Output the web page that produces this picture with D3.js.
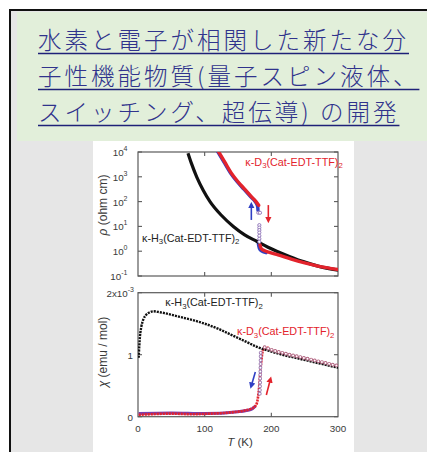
<!DOCTYPE html>
<html><head><meta charset="utf-8">
<script src="https://cdn.jsdelivr.net/npm/d3@7"></script>
<style>body{margin:0;background:#fff}svg{display:block}</style>
</head><body><svg id="c" width="427" height="452"></svg>
<script>
// ---------- data ----------
const titleLines = ["水素と電子が相関した新たな分", "子性機能物質(量子スピン液体、", "スイッチング、超伝導) の開発"];
const tTicks = [0, 100, 200, 300];
const rhoExpTicks = [-1, 0, 1, 2, 3, 4];
const chiTicks = [0, 1, 2];
// top panel: [T (K), log10 rho (ohm cm)]
const rhoH3 = [[75,3.95],[80,3.55],[88,3.0],[98,2.45],[108,2.0],[125,1.45],[143,1.0],[160,0.66],[178,0.40],[195,0.16],[208,0.0],[228,-0.22],[248,-0.42],[270,-0.6],[300,-0.76]];
const rhoD3warmUpper = [[120,4.05],[130,3.6],[140,3.15],[150,2.8],[160,2.5],[170,2.2],[177,2.0],[181,1.85]];
const rhoD3coolUpper = [[118.8,4.05],[128.8,3.6],[138.8,3.15],[148.8,2.8],[158.8,2.5],[168.8,2.2],[175.8,2.0],[179.5,1.8],[180,1.65]];
const rhoD3warmLower = [[183,0.25],[185,0.1],[190,0.02],[196,-0.04],[210,-0.15],[230,-0.32],[250,-0.47],[270,-0.6],[300,-0.74]];
const rhoD3coolLower = [[180.5,0.3],[182,0.12],[186,0.0],[192,-0.06]];
const rhoD3trans = [[180.5,1.55],[183,1.55],[182,1.05],[182,0.95],[182,0.85],[182,0.75],[182,0.62],[182,0.5],[182,0.38]];
// bottom panel: [T (K), chi (1e-3 emu/mol)]
const chiH3 = [[1,0.95],[2,1.15],[3,1.3],[5,1.45],[8,1.57],[12,1.64],[17,1.68],[23,1.70],[30,1.69],[40,1.67],[55,1.63],[70,1.59],[85,1.55],[100,1.50],[120,1.42],[140,1.32],[160,1.22],[180,1.12],[200,1.05],[220,0.99],[240,0.94],[260,0.89],[280,0.84],[300,0.79]];
const chiD3warm = [[1,0.03],[20,0.04],[50,0.05],[80,0.04],[110,0.05],[140,0.07],[160,0.1],[170,0.13],[176,0.17],[179,0.25],[181,0.4],[183,0.65],[185,0.9],[187,1.06],[189,1.11],[196,1.11]];
const chiD3cool = [[1,0.05],[50,0.06],[100,0.05],[150,0.08],[170,0.12],[176,0.17]];
const chiD3upper = [[190,1.12],[200,1.08],[220,1.02],[240,0.97],[260,0.92],[280,0.87],[300,0.82]];
const chiD3trans = [[184,1.03],[183.5,0.7],[182.5,0.32]];
// arrows [T0, v0, T1, v1]
const rhoArrows = [{c:"blue", p:[170,1.26,170,1.86]}, {c:"red", p:[195.5,1.86,195.5,1.26]}];
const chiArrows = [{c:"blue", p:[176,0.72,170,0.5]}, {c:"red", p:[192.5,0.35,198.5,0.6]}];

// ---------- drawing ----------
const svg = d3.select("#c");
const RED = "#e3232c", BLUE = "#2f3fc4", BLK = "#111", MAUVE = "#b0607e";

// page frame
svg.append("rect").attr("x",0).attr("y",0).attr("width",427).attr("height",452).attr("fill","#fff");
svg.append("rect").attr("x",11).attr("y",11).attr("width",420).attr("height",450).attr("fill","#e6e6e6");
svg.append("rect").attr("x",17).attr("y",12).attr("width",415).attr("height",129).attr("fill","#e2efda");
svg.append("rect").attr("x",10).attr("y",10).attr("width",430).attr("height",460).attr("fill","none").attr("stroke","#111").attr("stroke-width",2);
svg.append("rect").attr("x",93).attr("y",141).attr("width",261).attr("height",320).attr("fill","#fff");

// title
const tg = svg.append("g");
titleLines.forEach((s,i)=>{
  const y = 49 + i*36;
  const t = tg.append("text").attr("x",38).attr("y",y).text(s)
    .attr("font-family","'Noto Sans CJK JP'").attr("font-weight",300).attr("font-size",23.5).attr("letter-spacing","3px")
    .attr("fill","#30338c");
  let w = t.node().getComputedTextLength();
  tg.append("line").attr("x1",38).attr("x2",38+w).attr("y1",y+4.5).attr("y2",y+4.5)
    .attr("stroke","#1f2178").attr("stroke-width",1.4);
});

const x = d3.scaleLinear().domain([0,300]).range([138,338]);
const yR = d3.scaleLinear().domain([-1,4]).range([276,152]);
const yC = d3.scaleLinear().domain([0,2]).range([416.7,292.7]);
const FONT = "'Liberation Sans', Arial, sans-serif";
const AX = "#5a5a5a";

function frame(y0,y1){
  svg.append("rect").attr("x",x(0)).attr("y",y0).attr("width",x(300)-x(0)).attr("height",y1-y0)
   .attr("fill","none").attr("stroke",AX).attr("stroke-width",1.2);
}
function axes(y, ticks, y0, y1){
  const g = svg.append("g").attr("stroke",AX).attr("stroke-width",1.1);
  ticks.forEach(v=>{
    g.append("line").attr("x1",x(0)).attr("x2",x(0)+4).attr("y1",y(v)).attr("y2",y(v));
    g.append("line").attr("x1",x(300)).attr("x2",x(300)-4).attr("y1",y(v)).attr("y2",y(v));
  });
  [100,200].forEach(v=>{
    g.append("line").attr("x1",x(v)).attr("x2",x(v)).attr("y1",y0).attr("y2",y0+4);
    g.append("line").attr("x1",x(v)).attr("x2",x(v)).attr("y1",y1).attr("y2",y1-4);
  });
}
frame(152,276); axes(yR, rhoExpTicks, 152, 276);
frame(292.7,416.7); axes(yC, chiTicks, 292.7, 416.7);

// tick labels
const lab = svg.append("g").attr("font-family",FONT).attr("fill","#3a3a3a");
rhoExpTicks.forEach(e=>{
  const t = lab.append("text").attr("x",127.5).attr("y",yR(e)+4).attr("text-anchor","end").attr("font-size",9.8);
  t.append("tspan").text("10");
  t.append("tspan").attr("dy",-5).attr("font-size",7).text(e);
});
chiTicks.forEach(v=>{
  const t = lab.append("text").attr("x",133).attr("y",yC(v)+4).attr("text-anchor","end").attr("font-size",9.8);
  if(v===2){ t.append("tspan").text("2x10"); t.append("tspan").attr("dy",-5).attr("font-size",7).text("-3"); t.attr("x",134); }
  else t.text(v);
});
tTicks.forEach(v=>{
  lab.append("text").attr("x",x(v)).attr("y",432).attr("text-anchor","middle").attr("font-size",9.8).text(v);
});
// axis titles
const xt = lab.append("text").attr("x",240).attr("y",446).attr("text-anchor","middle").attr("font-size",11.5);
xt.append("tspan").attr("font-style","italic").text("T");
xt.append("tspan").text(" (K)");
const yt1 = lab.append("text").attr("transform","translate(107,"+205+") rotate(-90)").attr("text-anchor","middle").attr("font-size",12);
yt1.append("tspan").attr("font-style","italic").text("ρ");
yt1.append("tspan").text("  (ohm cm)");
const yt2 = lab.append("text").attr("transform","translate(107,"+352+") rotate(-90)").attr("text-anchor","middle").attr("font-size",12);
yt2.append("tspan").attr("font-style","italic").text("χ");
yt2.append("tspan").text("  (emu / mol)");

// clip
svg.append("clipPath").attr("id","cpTop").append("rect").attr("x",x(0)).attr("y",152).attr("width",200).attr("height",124);
const gTop = svg.append("g").attr("clip-path","url(#cpTop)");
const lineR = d3.line().x(d=>x(d[0])).y(d=>yR(d[1])).curve(d3.curveMonotoneX);
const lineC = d3.line().x(d=>x(d[0])).y(d=>yC(d[1])).curve(d3.curveMonotoneX);
const lineClin = d3.line().x(d=>x(d[0])).y(d=>yC(d[1])).curve(d3.curveCatmullRom);

gTop.append("path").attr("d",lineR(rhoD3coolUpper)).attr("fill","none").attr("stroke",BLUE).attr("stroke-width",3.4).attr("stroke-linecap","round");
gTop.append("path").attr("d",lineR(rhoD3coolLower)).attr("fill","none").attr("stroke",BLUE).attr("stroke-width",3.4).attr("stroke-linecap","round");
gTop.append("path").attr("d",lineR(rhoH3)).attr("fill","none").attr("stroke",BLK).attr("stroke-width",3.2);
gTop.append("path").attr("d",lineR(rhoD3warmUpper)).attr("fill","none").attr("stroke",RED).attr("stroke-width",3.4).attr("stroke-linecap","round");
gTop.append("path").attr("d",lineR(rhoD3warmLower)).attr("fill","none").attr("stroke",RED).attr("stroke-width",3.4).attr("stroke-linecap","round");
gTop.selectAll("circle.tr").data(rhoD3trans).join("circle").attr("cx",d=>x(d[0])).attr("cy",d=>yR(d[1])).attr("r",1.6)
  .attr("fill","#fff").attr("stroke","#8b6fb5").attr("stroke-width",0.9);

// bottom panel
svg.append("clipPath").attr("id","cpBot").append("rect").attr("x",x(0)).attr("y",292.7).attr("width",200).attr("height",124);
const gBot = svg.append("g").attr("clip-path","url(#cpBot)");
gBot.append("path").attr("d",lineC(chiD3cool)).attr("fill","none").attr("stroke","#7a3fae").attr("stroke-width",3);
gBot.append("path").attr("d",lineC(chiD3warm)).attr("fill","none").attr("stroke",RED).attr("stroke-width",2.6).attr("stroke-dasharray","2.2 0.8");
function rings(g, data, gen, col){
  g.append("path").attr("d",gen(data)).attr("fill","none").attr("stroke",col).attr("stroke-width",3.8)
    .attr("stroke-linecap","round").attr("stroke-dasharray","0 3.7");
  g.append("path").attr("d",gen(data)).attr("fill","none").attr("stroke","#fff").attr("stroke-width",2.0)
    .attr("stroke-linecap","round").attr("stroke-dasharray","0 3.7");
}
gBot.append("path").attr("d",lineC(chiH3)).attr("fill","none").attr("stroke",BLK).attr("stroke-width",2.4).attr("stroke-dasharray","2.1 1");
rings(gBot, chiD3upper, lineC, MAUVE);
rings(gBot, chiD3trans, lineClin, "#9a78b0");

// arrows
const defs = svg.append("defs");
[["red",RED],["blue",BLUE]].forEach(([n,c])=>{
  defs.append("marker").attr("id","ah-"+n).attr("viewBox","0 0 10 10").attr("refX",5).attr("refY",5)
    .attr("markerWidth",4).attr("markerHeight",5).attr("orient","auto")
    .append("path").attr("d","M0,0 L10,5 L0,10 z").attr("fill",c);
});
function arrow(a, y){
  const col = a.c==="red"?RED:BLUE;
  svg.append("line").attr("x1",x(a.p[0])).attr("y1",y(a.p[1])).attr("x2",x(a.p[2])).attr("y2",y(a.p[3]))
    .attr("stroke",col).attr("stroke-width",1.6).attr("marker-end","url(#ah-"+a.c+")");
}
rhoArrows.forEach(a=>arrow(a,yR));
chiArrows.forEach(a=>arrow(a,yC));

// series labels
function kLabel(xp, yp, iso, col){
  const t = svg.append("text").attr("x",xp).attr("y",yp).attr("font-family",FONT).attr("font-size",10.8).attr("fill",col);
  t.append("tspan").text("κ-"+iso);
  t.append("tspan").attr("dy",2.5).attr("font-size",7.8).text("3");
  t.append("tspan").attr("dy",-2.5).text("(Cat-EDT-TTF)");
  t.append("tspan").attr("dy",2.5).attr("font-size",7.8).text("2");
}
kLabel(x(161), yR(3.44), "D", RED);
kLabel(x(6), yR(0.39), "H", "#222");
kLabel(x(41), yC(1.78), "H", "#222");
kLabel(x(148.5), yC(1.31), "D", RED);
</script></body></html>
